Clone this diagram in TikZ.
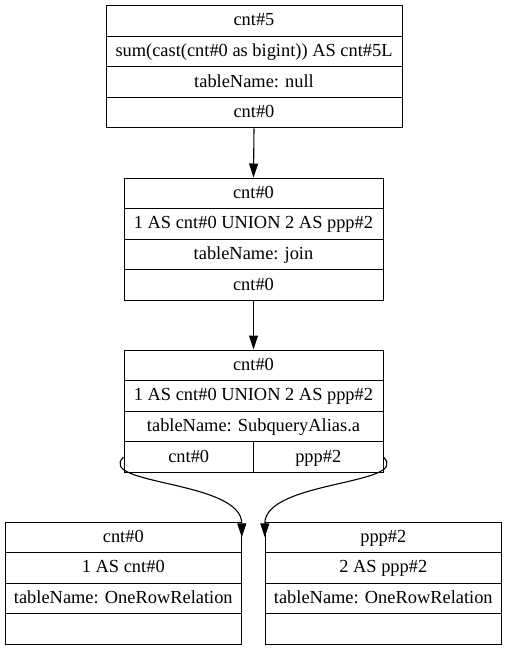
\documentclass[tikz,border=0pt]{standalone}
\usepackage{fontspec}
\setmainfont{Liberation Serif}
\usetikzlibrary{arrows.meta}
\begin{document}
\begin{tikzpicture}[x=1pt,y=-1pt,
  cell/.style={draw,line width=1pt,inner sep=0pt,minimum height=30.6pt,text height=13pt,text depth=3pt,font=\fontsize{18.4}{20}\selectfont},
  w1/.style={cell,minimum width=296pt},
  w2/.style={cell,minimum width=259pt},
  w4/.style={cell,minimum width=236pt},
  half/.style={cell,minimum width=129.5pt},
  edge/.style={line width=1.1pt,-{Triangle[length=14pt,width=9pt]}}]
\useasboundingbox (0,0) rectangle (507,651);
% box 1
\node[w1] (a1) at (254,20.8) {cnt\#5};
\node[w1] (a2) at (254,51.4) {sum(cast(cnt\#0 as bigint)) AS cnt\#5L};
\node[w1] (a3) at (254,82.0) {tableName: null};
\node[w1] (a4) at (254,112.6) {cnt\#0};
% box 2
\node[w2] (b1) at (253.5,193.3) {cnt\#0};
\node[w2] (b2) at (253.5,223.9) {1 AS cnt\#0 UNION 2 AS ppp\#2};
\node[w2] (b3) at (253.5,254.5) {tableName: join};
\node[w2] (b4) at (253.5,285.1) {cnt\#0};
% box 3
\node[w2] (c1) at (253.5,365.3) {cnt\#0};
\node[w2] (c2) at (253.5,395.9) {1 AS cnt\#0 UNION 2 AS ppp\#2};
\node[w2] (c3) at (253.5,426.5) {tableName: SubqueryAlias.a};
\node[half] (cl) at (188.75,457.1) {cnt\#0};
\node[half] (cr) at (318.25,457.1) {ppp\#2};
% box 4
\node[w4] (d1) at (123.3,537.3) {cnt\#0};
\node[w4] (d2) at (123.3,567.9) {1 AS cnt\#0};
\node[w4] (d3) at (123.3,598.5) {tableName: OneRowRelation};
\node[w4] (d4) at (123.3,629.1) {};
% box 5
\node[w4] (e1) at (383.3,537.3) {ppp\#2};
\node[w4] (e2) at (383.3,567.9) {2 AS ppp\#2};
\node[w4] (e3) at (383.3,598.5) {tableName: OneRowRelation};
\node[w4] (e4) at (383.3,629.1) {};
% edges
\draw[edge] (a4.south) -- (b1.north);
\draw[edge] (b4.south) -- (c1.north);
\draw[edge] (cl.west) .. controls +(-28,28) and +(0,-57) .. (d1.east);
\draw[edge] (cr.east) .. controls +(28,28) and +(0,-57) .. (e1.west);
\end{tikzpicture}
\end{document}
